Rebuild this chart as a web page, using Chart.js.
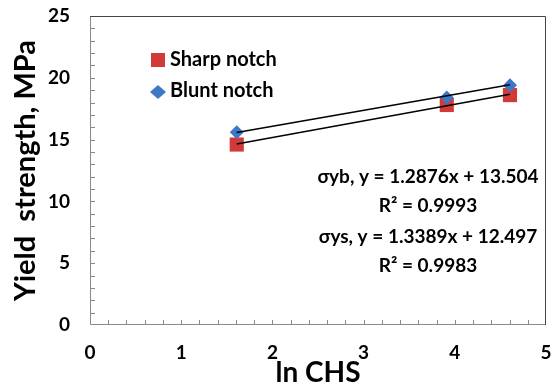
<!DOCTYPE html>
<html>
<head>
<meta charset="utf-8">
<script src="https://cdn.jsdelivr.net/npm/chart.js@4"></script>
<style>
  html, body { margin: 0; padding: 0; background: #fff; }
  #wrap { width: 556px; height: 389px; }
</style>
</head>
<body>
<div id="wrap"><canvas id="c" width="556" height="389"></canvas></div>
<script>
// ln CHS values of the three specimens
const lnCHS = [1.609, 3.912, 4.605];
const sharpNotch = [14.6, 17.8, 18.6];
const bluntNotch = [15.6, 18.4, 19.4];
// trendline endpoints, read from the fitted equations
const trendX = [1.609, 4.605];
const trendBlunt = [15.58, 19.43];
const trendSharp = [14.65, 18.66];
const eqLabels = ['\u03C3yb, y = 1.2876x + 13.504', 'R\u00B2 = 0.9993', '\u03C3ys, y = 1.3389x + 12.497', 'R\u00B2 = 0.9983'];
const legendLabels = ['Sharp notch', 'Blunt notch'];

const RED = '#d23a3a';
const BLUE = '#3d78c6';
const FONT = 'Lato, "Open Sans", sans-serif';

const pts = (xs, ys) => xs.map((x, i) => ({ x, y: ys[i] }));

const decorPlugin = {
    id: 'decor',
    afterDraw(chart) {
        const { ctx, chartArea: a } = chart;
        const x = chart.scales.x, y = chart.scales.y;
        ctx.save();
        // frame
        ctx.lineWidth = 1;
        ctx.strokeStyle = '#8a8a8a';
        ctx.beginPath();
        ctx.moveTo(a.left + 0.5, a.top);
        ctx.lineTo(a.left + 0.5, a.bottom - 0.5);
        ctx.lineTo(a.right, a.bottom - 0.5);
        ctx.stroke();
        ctx.strokeStyle = '#444';
        ctx.beginPath();
        ctx.moveTo(a.left, a.top + 0.5);
        ctx.lineTo(a.right - 0.5, a.top + 0.5);
        ctx.lineTo(a.right - 0.5, a.bottom);
        ctx.stroke();
        // inner tick marks
        ctx.strokeStyle = '#8a8a8a';
        ctx.beginPath();
        for (let v = 1; v < 25; v++) {
            const py = Math.round(y.getPixelForValue(v)) + 0.5;
            ctx.moveTo(a.left, py);
            ctx.lineTo(a.left + 5, py);
        }
        for (let k = 1; k < 25; k++) {
            const px = Math.round(x.getPixelForValue(k * 0.2)) + 0.5;
            ctx.moveTo(px, a.bottom);
            ctx.lineTo(px, a.bottom - 5);
        }
        ctx.stroke();

        // legend
        ctx.fillStyle = RED;
        ctx.fillRect(151, 53, 14, 14);
        ctx.fillStyle = BLUE;
        ctx.beginPath();
        ctx.moveTo(158, 85); ctx.lineTo(166, 92); ctx.lineTo(158, 99); ctx.lineTo(150, 92);
        ctx.closePath();
        ctx.fill();
        ctx.fillStyle = '#000';
        ctx.font = 'bold 20px ' + FONT;
        ctx.textAlign = 'left';
        ctx.textBaseline = 'middle';
        ctx.fillText(legendLabels[0], 170, 60);
        ctx.fillText(legendLabels[1], 170, 91);

        // equations
        ctx.font = 'bold 19px ' + FONT;
        ctx.textAlign = 'center';
        const ey = [177, 206, 237, 266];
        eqLabels.forEach((t, i) => ctx.fillText(t, 428, ey[i]));
        ctx.restore();
    }
};

new Chart(document.getElementById('c'), {
    type: 'scatter',
    plugins: [decorPlugin],
    data: {
        datasets: [
            { type: 'line', data: pts(trendX, trendBlunt), borderColor: '#000', borderWidth: 1.5, pointRadius: 0, order: 0 },
            { type: 'line', data: pts(trendX, trendSharp), borderColor: '#000', borderWidth: 1.5, pointRadius: 0, order: 0 },
            { label: legendLabels[1], data: pts(lnCHS, bluntNotch), pointStyle: 'rectRot', pointRadius: 7, backgroundColor: BLUE, borderColor: BLUE, borderWidth: 0, order: 1 },
            { label: legendLabels[0], data: pts(lnCHS, sharpNotch), pointStyle: 'rect', pointRadius: 10, backgroundColor: RED, borderColor: RED, borderWidth: 0, order: 2 }
        ]
    },
    options: {
        responsive: false,
        animation: false,
        layout: { padding: { top: 16, right: 7, left: 0, bottom: 0 } },
        plugins: { legend: { display: false }, tooltip: { enabled: false } },
        scales: {
            x: {
                type: 'linear', min: 0, max: 5,
                grid: { display: false, drawTicks: false },
                border: { display: false },
                ticks: { stepSize: 1, padding: 16, color: '#000', font: { family: FONT, size: 19, weight: 'bold' } },
                title: { display: true, text: 'ln CHS', color: '#000', padding: { top: 0, bottom: -1 }, font: { family: FONT, size: 28, weight: 'bold' } },
                afterFit: s => { s.height = 64; s.paddingLeft = 0; s.paddingRight = 0; }
            },
            y: {
                min: 0, max: 25,
                grid: { display: false, drawTicks: false },
                border: { display: false },
                ticks: { stepSize: 5, padding: 20, color: '#000', font: { family: FONT, size: 19, weight: 'bold' } },
                title: { display: true, text: 'Yield  strength, MPa', color: '#000', padding: { top: 8, bottom: 0 }, font: { family: FONT, size: 29, weight: 'bold' } },
                afterFit: s => { s.width = 90; s.paddingTop = 0; s.paddingBottom = 0; }
            }
        }
    }
});
</script>
</body>
</html>
